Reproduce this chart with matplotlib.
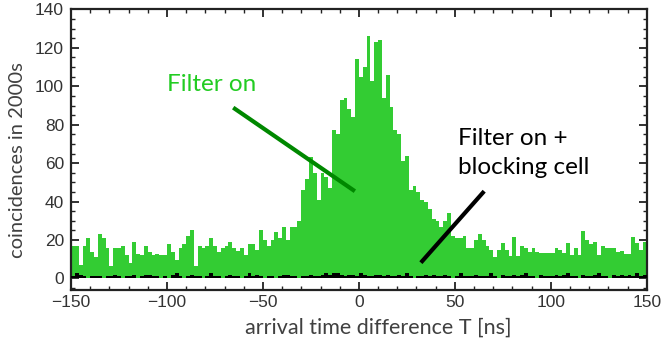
import numpy as np
import matplotlib
matplotlib.use("Agg")
import matplotlib.pyplot as plt
from matplotlib.ticker import MultipleLocator

plt.rcParams['font.family'] = ['Liberation Sans Narrow', 'Liberation Sans', 'DejaVu Sans']

# arrival time difference bins (left edges, ns), bin width 2 ns
bin_width = 2
bin_left = np.arange(-150, 150, bin_width)

# coincidences, filter on (green)
filter_on = [
    17, 17, 7, 17, 21, 13.5, 11, 23, 21, 15.6, 6.5, 16, 15.6, 17, 12, 8, 19, 12.6, 12, 17,
    13.5, 12, 12.6, 12, 12, 18, 14, 9.5, 16, 18, 22, 25, 6.5,
    17, 16, 17, 21, 17, 14, 16, 17, 19, 16, 14.5, 16, 12, 18, 18, 15, 25, 20, 17, 20, 24,
    21, 27, 20, 27, 27, 30,
    46, 52, 63, 55, 41, 55, 53, 47, 77, 75, 93, 94, 88, 84,
    114, 105, 110, 126, 103, 123, 124, 94, 106, 89, 77, 75, 61, 63.5,
    46, 48, 45, 41, 40, 36, 31, 30, 27, 30, 34, 22,
    21, 21, 22, 16, 16, 20, 23, 20, 17, 15, 11, 15, 18.5, 15, 11.6, 21.4, 11.6, 17, 16, 14,
    16, 14, 13, 13, 13, 13, 16, 15, 13, 18.5, 12, 16, 12, 24.5, 20, 18, 19, 12, 16.8, 16,
    16, 16, 14, 14.5, 12.8, 12.8, 21.5, 18.5, 15, 19,
]

# coincidences, filter on + blocking cell (black)
filter_blocking = [
    1, 3, 2, 1, 0, 1, 1, 1, 0, 1, 1, 2, 1, 0, 1, 1, 2, 0, 1, 2, 2, 1, 1, 0, 1, 0, 2, 3, 1, 0,
    1, 2, 1, 1, 0, 1, 3, 1, 1, 0, 1, 2, 1, 1, 0, 1, 3, 1, 2, 1, 0, 1, 1, 0, 1, 2, 2, 1, 1, 0,
    1, 1, 2, 1, 1, 2, 3, 2, 3, 3, 2, 1, 2, 2, 1, 3, 2, 1, 1, 2, 2, 1, 2, 1, 1, 2, 1, 3, 1, 0,
    1, 1, 2, 1, 2, 1, 1, 2, 1, 0, 1, 3, 1, 1, 1, 2, 1, 1, 1, 3, 1, 0, 2, 1, 1, 2, 1, 2, 3, 1,
    1, 0, 2, 1, 1, 1, 2, 1, 2, 3, 1, 1, 0, 2, 1, 1, 2, 3, 1, 1, 0, 2, 1, 2, 1, 2, 1, 3, 1, 2,
]

xticks = [-150, -100, -50, 0, 50, 100, 150]
yticks = [0, 20, 40, 60, 80, 100, 120, 140]

fig = plt.figure(figsize=(6.64, 3.51), dpi=100)
ax = fig.add_axes([0.107, 0.174, 0.867, 0.799])

ax.bar(bin_left, filter_on, width=bin_width, align="edge", color="#33cc33",
       edgecolor="none", linewidth=0, zorder=2)
ax.bar(bin_left, filter_blocking, width=bin_width, align="edge", color="#000000",
       edgecolor="none", linewidth=0, zorder=3)

ax.set_xlim(-150, 150)
ax.set_ylim(-6, 140)
ax.set_xticks(xticks)
ax.set_yticks(yticks)
ax.xaxis.set_minor_locator(MultipleLocator(10))
ax.yaxis.set_minor_locator(MultipleLocator(5))
ax.set_xticklabels(["\u2212150", "\u2212100", "\u221250", "0", "50", "100", "150"])

ax.tick_params(which="both", direction="in", top=True, right=True,
               colors="#222222", labelcolor="#333333", labelsize=12.5)
ax.tick_params(which="major", length=6, width=1.3)
ax.tick_params(which="minor", length=3, width=1.0)
ax.tick_params(axis="y", pad=5)
ax.tick_params(axis="x", pad=4)
for sp in ax.spines.values():
    sp.set_linewidth(1.6)
    sp.set_color("#222222")

label_font = ["Lato", "DejaVu Sans"]
ax.set_xlabel("arrival time difference T [ns]", fontsize=15.5, color="#404040",
              family=label_font)
ax.set_ylabel("coincidences in 2000s", fontsize=14.5, color="#404040",
              family=label_font)
ax.xaxis.set_label_coords(0.534, -0.1)
ax.yaxis.set_label_coords(-0.078, 0.463)

# annotations
ax.text(-100, 101, "Filter on", fontsize=17.5, color="#22cc22", family=label_font,
        ha="left", va="center", zorder=5)
ax.plot([-65.5, -2.1], [88.9, 45.4], color="#008800", lw=3, solid_capstyle="butt", zorder=5)
ax.text(51.6, 73, "Filter on +", fontsize=17.5, color="#000000", family=label_font,
        ha="left", va="center", zorder=5)
ax.text(51.6, 57.5, "blocking cell", fontsize=17.5, color="#000000", family=label_font,
        ha="left", va="center", zorder=5)
ax.plot([32.3, 65.3], [8.2, 45.4], color="#000000", lw=3, solid_capstyle="butt", zorder=5)

fig.savefig("out.png", dpi=100)
